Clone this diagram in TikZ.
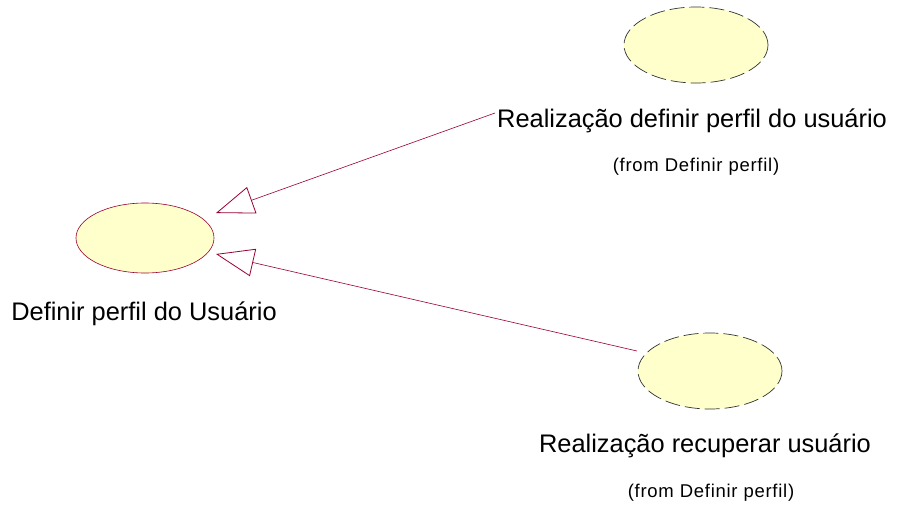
\documentclass[tikz,border=0pt]{standalone}
\usepackage{fontspec}
\setmainfont{Liberation Sans}
\usetikzlibrary{shapes.geometric,arrows.meta}
\definecolor{ucfill}{RGB}{255,255,204}
\definecolor{ucline}{RGB}{153,0,51}
\begin{document}
\begin{tikzpicture}[x=1pt,y=-1pt,
  usecase/.style={ellipse,fill=ucfill,inner sep=0pt},
  realiz/.style={usecase,draw=black!80,dash pattern=on 15pt off 5pt,line width=0.7pt},
  solidcase/.style={usecase,draw=ucline,line width=0.6pt},
  lbl/.style={font=\fontsize{25.4}{30}\selectfont,inner sep=0pt},
  frm/.style={font=\fontsize{18.5}{22}\selectfont\addfontfeature{LetterSpace=4},inner sep=0pt},
  gen/.style={draw=ucline,line width=0.6pt,-{Triangle[open,length=38pt,width=28pt,line width=0.8pt]}}]
\useasboundingbox (0,0) rectangle (898,504);
\node[solidcase,minimum width=138pt,minimum height=70pt] (def) at (145,238) {};
\node[realiz,minimum width=144pt,minimum height=76pt] (r1) at (696,45) {};
\node[realiz,minimum width=144pt,minimum height=76pt] (r2) at (710,371) {};
\node[lbl,anchor=base west] (l1) at (497,127) {Realização definir perfil do usuário};
\node[frm,anchor=base] (f1) at (696,171) {(from Definir perfil)};
\node[lbl,anchor=base] (ld) at (144,320) {Definir perfil do Usuário};
\node[lbl,anchor=base] (l2) at (705,452) {Realização recuperar usuário};
\node[frm,anchor=base] (f2) at (711,497) {(from Definir perfil)};
\coordinate (s1) at (495,113);
\coordinate (t1) at (216,213);
\coordinate (t2) at (216,254);
\coordinate (s2) at (637,351);
\draw[gen] (s1) -- (t1);
\draw[gen] (s2) -- (t2);
\end{tikzpicture}
\end{document}
